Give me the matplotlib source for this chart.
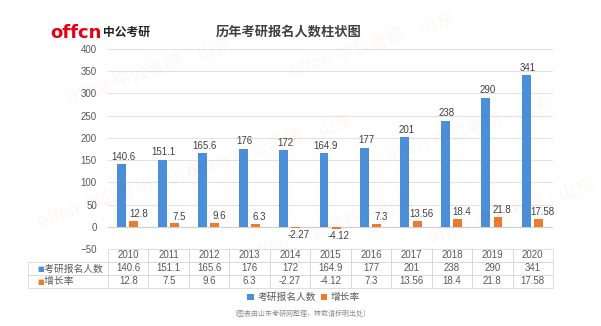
import matplotlib
matplotlib.use("Agg")

import numpy as np
import matplotlib.pyplot as plt

plt.rcParams['font.family'] = ['Liberation Sans', 'Noto Sans CJK SC', 'DejaVu Sans']

# Data
years = ["2010", "2011", "2012", "2013", "2014", "2015", "2016", "2017", "2018", "2019", "2020"]
applicants = [140.6, 151.1, 165.6, 176, 172, 164.9, 177, 201, 238, 290, 341]
growth = [12.8, 7.5, 9.6, 6.3, -2.27, -4.12, 7.3, 13.56, 18.4, 21.8, 17.58]
series_names = ["考研报名人数", "增长率"]
app_labels = ["140.6", "151.1", "165.6", "176", "172", "164.9", "177", "201", "238", "290", "341"]
growth_labels = ["12.8", "7.5", "9.6", "6.3", "-2.27", "-4.12", "7.3", "13.56", "18.4", "21.8", "17.58"]

blue = "#4A8FD8"
orange = "#EE7A2F"
txt = "#595959"

fig = plt.figure(figsize=(6.01, 3.26), dpi=100)
ax = fig.add_axes([0.1797, 0.2362, 0.7404, 0.6135])

# faint watermarks
for (x, y) in [(0.25, 0.78), (0.62, 0.86), (0.45, 0.55), (0.78, 0.6), (0.2, 0.4), (0.55, 0.3), (0.85, 0.35)]:
    fig.text(x, y, "offcn 中公考研 · 山东", fontsize=13, color="#E60012", alpha=0.03,
             rotation=18, ha="center", va="center", fontweight="bold")

x = np.arange(len(years))
w = 0.22
b1 = ax.bar(x - 0.16, applicants, width=w, color=blue, zorder=3)
b2 = ax.bar(x + 0.14, growth, width=w, color=orange, zorder=3)

for xi, v, s in zip(x, applicants, app_labels):
    ax.text(xi - 0.12, v + 6, s, ha="center", va="bottom", fontsize=7, color="#404040")
for xi, v, s in zip(x, growth, growth_labels):
    if v >= 0:
        ax.text(xi + 0.25, v + 4, s, ha="center", va="bottom", fontsize=7, color="#404040")
    else:
        ax.text(xi + 0.2, v - 5, s, ha="center", va="top", fontsize=7, color="#404040")

ax.set_ylim(-50, 400)
ax.set_xlim(-0.5, len(years) - 0.5)
ax.set_yticks(range(-50, 401, 50))
ax.tick_params(axis="y", length=0, labelsize=7, labelcolor=txt, pad=8)
ax.set_xticks([])
ax.grid(axis="y", color="#E3E3E3", linewidth=0.8, zorder=0)
ax.axhline(0, color="#D0D0D0", linewidth=0.8, zorder=2)
for sp in ax.spines.values():
    sp.set_visible(False)
ax.patch.set_alpha(0)

# data table
tbl = ax.table(cellText=[app_labels, growth_labels], rowLabels=["   " + n for n in series_names],
               colLabels=years, bbox=[0, -0.195, 1, 0.195], cellLoc="center", rowLoc="left")
tbl.auto_set_font_size(False)
tbl.set_fontsize(7)
for (r, c), cell in tbl.get_celld().items():
    cell.set_edgecolor("#D9D9D9")
    cell.set_linewidth(0.6)
    cell.get_text().set_color(txt)
    cell.set_facecolor("none")
    if c == -1:
        cell.set_width(0.165)
tbl_x0 = 0.1797 - 0.165 * 0.7404
fig.text(tbl_x0 + 0.004, 0.236 - 0.06, "■", color=blue, fontsize=5, va="center",
         family="DejaVu Sans")
fig.text(tbl_x0 + 0.004, 0.236 - 0.10, "■", color=orange, fontsize=5, va="center",
         family="DejaVu Sans")

# legend
fig.legend([b1, b2], series_names, loc="center", bbox_to_anchor=(0.505, 0.088), ncol=2,
           frameon=False, fontsize=7, handlelength=0.7, handleheight=0.7,
           handletextpad=0.3, columnspacing=0.5, labelcolor=txt)

# title, logo, note
fig.text(0.48, 0.9, "历年考研报名人数柱状图", ha="center", va="center", fontsize=9.5,
         fontweight="bold", color="#404040")
fig.text(0.083, 0.9, "offcn", ha="left", va="center", fontsize=13, fontweight="bold",
         color="#E60012", family="DejaVu Sans")
fig.text(0.172, 0.9, "中公考研", ha="left", va="center", fontsize=8.5, fontweight="bold",
         color="#222222")
fig.text(0.5, 0.035, "（图表由山东考研网整理，转载请标明出处）", ha="center", va="center",
         fontsize=5, color="#8C8C8C")

plt.savefig("out.png", dpi=100)
plt.close()
